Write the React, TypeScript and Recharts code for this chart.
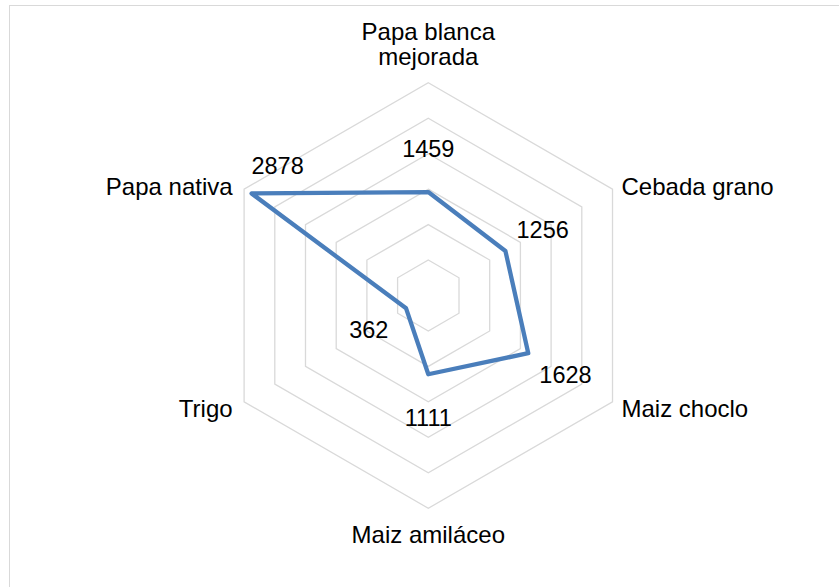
import React from 'react';
import { RadarChart, Radar, PolarGrid, PolarAngleAxis, PolarRadiusAxis } from 'recharts';

// Categories (clockwise from top) and values
const categories = ['Papa blanca mejorada', 'Cebada grano', 'Maiz choclo', 'Maiz amiláceo', 'Trigo', 'Papa nativa'];
const categoryLines = [['Papa blanca', 'mejorada'], ['Cebada grano'], ['Maiz choclo'], ['Maiz amiláceo'], ['Trigo'], ['Papa nativa']];
const values = [1459, 1256, 1628, 1111, 362, 2878];
const radiusTicks = [0, 500, 1000, 1500, 2000, 2500, 3000];

const data = categories.map((c, i) => ({ category: c, value: values[i] }));

// layout / style constants
const W = 839;
const H = 587;
const CX = 428.3;
const CY = 295.5;
const R = 212.7;
const FONT = 'Arial, "Liberation Sans", sans-serif';
const LINE = '#4a7ebb';
const GRID = '#d9d9d9';
const AXIS_FS = 24;
const VALUE_FS = 23.5;
const VALUE_OFFSET = 43;
// manual nudge for the label that would collide with its category text
const LABEL_NUDGE: Record<number, [number, number]> = { 5: [26, -28] };

const AngleTick = (props: any) => {
  const { payload, index } = props;
  const ang = (payload.coordinate * Math.PI) / 180;
  const vx = CX + R * Math.cos(ang);
  const vy = CY - R * Math.sin(ang);
  const lines = categoryLines[index] ?? [String(payload.value)];
  const dx = vx - CX;
  let anchor: 'start' | 'middle' | 'end' = 'middle';
  let x = vx;
  let baselines: number[] = [];
  if (Math.abs(dx) < 1) {
    if (vy < CY) {
      baselines = lines.map((_, i) => vy - 18 - (lines.length - 1 - i) * 25);
    } else {
      baselines = lines.map((_, i) => vy + 35 + i * 25);
    }
  } else {
    anchor = dx > 0 ? 'start' : 'end';
    x = dx > 0 ? vx + 9 : vx - 11.5;
    const base = vy + (vy < CY ? 6 : 15);
    baselines = lines.map((_, i) => base + i * 25);
  }
  return (
    <g>
      {lines.map((l, i) => (
        <text key={i} x={x} y={baselines[i]} textAnchor={anchor} fontFamily={FONT} fontSize={AXIS_FS} fill="#000">
          {l}
        </text>
      ))}
    </g>
  );
};

const ValueDot = (props: any) => {
  const { cx, cy, payload, index } = props;
  const px = payload?.cx ?? CX;
  const py = payload?.cy ?? CY;
  const vx = cx - px;
  const vy = cy - py;
  const d = Math.sqrt(vx * vx + vy * vy) || 1;
  let lx = cx + (vx / d) * VALUE_OFFSET;
  let ly = cy + (vy / d) * VALUE_OFFSET;
  const nudge = LABEL_NUDGE[index];
  if (nudge) {
    lx = cx + nudge[0];
    ly = cy + nudge[1];
  }
  return (
    <text
      key={`v-${index}`}
      x={lx}
      y={ly + 8.3}
      textAnchor="middle"
      fontFamily={FONT}
      fontSize={VALUE_FS}
      fill="#000"
      stroke="none"
    >
      {values[index]}
    </text>
  );
};

export default function App() {
  return (
    <div style={{ position: 'absolute', left: 0, top: 0, width: W, height: H, overflow: 'hidden', background: '#fff' }}>
      <div
        style={{
          position: 'absolute',
          left: 9,
          top: 5,
          width: W + 10,
          height: H + 10,
          borderLeft: `1.5px solid ${GRID}`,
          borderTop: `1.5px solid ${GRID}`,
          boxSizing: 'border-box',
        }}
      />
      <div style={{ position: 'absolute', left: 0, top: 0 }}>
        <RadarChart width={W} height={H} data={data} cx={CX} cy={CY} outerRadius={R} margin={{ top: 0, right: 0, bottom: 0, left: 0 }}>
          <PolarGrid gridType="polygon" radialLines={false} stroke={GRID} strokeWidth={1.3} />
          <PolarAngleAxis dataKey="category" tick={<AngleTick />} tickLine={false} axisLine={false} />
          <PolarRadiusAxis domain={[0, 3000]} ticks={radiusTicks as any} tickCount={7} tick={false} axisLine={false} />
          <Radar
            dataKey="value"
            stroke={LINE}
            strokeWidth={4.3}
            strokeLinejoin="round"
            fill="none"
            fillOpacity={0}
            dot={<ValueDot />}
            isAnimationActive={false}
          />
        </RadarChart>
      </div>
    </div>
  );
}
